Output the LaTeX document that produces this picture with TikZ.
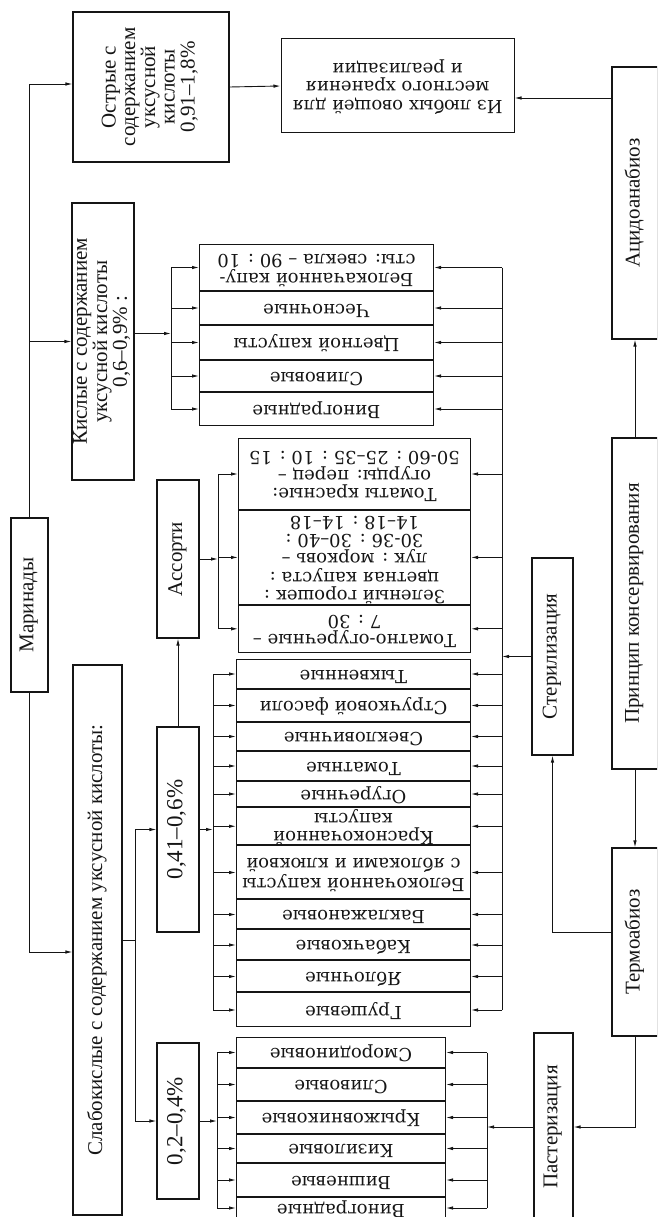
\documentclass[tikz,border=0pt]{standalone}
\usepackage{fontspec}
\setmainfont{Liberation Serif}
\newfontfamily\itemfont{DejaVu Serif}
\usepackage{graphicx}
\usetikzlibrary{arrows.meta,positioning,calc}
\definecolor{ink}{HTML}{151515}

\newcommand{\uptext}[1]{\rotatebox{90}{\begin{tabular}{@{}c@{}}#1\end{tabular}}}
\newcommand{\fliptext}[1]{\rotatebox{180}{\begin{tabular}{@{}c@{}}#1\end{tabular}}}

\tikzset{
  box/.style={draw=ink, line width=1.1pt, inner sep=0pt, text=ink,
    font=\fontsize{21}{19.5}\selectfont},
  rate/.style={box, font=\fontsize{23}{22}\selectfont},
  cell/.style={draw=ink, line width=1pt, inner sep=0pt, text=ink,
    font=\itemfont\fontsize{18}{18.5}\selectfont},
  feed/.style={draw=ink, line width=0.9pt, -{Latex[length=7pt,width=3.5pt]}},
  wire/.style={draw=ink, line width=0.9pt}
}

\begin{document}
\begin{tikzpicture}[x=1pt,y=-1pt]
    \useasboundingbox (0,0) rectangle (657,1217);
    \clip (0,0) rectangle (657,1217);

    \node[box, minimum width=37pt, minimum height=174pt] (mar) at (29.5,605) {\uptext{Маринады}};
    \node[box, minimum width=156pt, minimum height=150pt] (ostr) at (151,87)
      {\uptext{Острые с\\содержанием\\уксусной\\кислоты\\0,91–1,8\%}};
    \node[box, minimum width=62pt, minimum height=277pt] (kisl) at (103,341.5)
      {\uptext{Кислые с содержанием\\уксусной кислоты\\0,6–0,9\% :}};
    \node[box, minimum width=49pt, minimum height=550pt] (slab) at (97.5,940)
      {\uptext{Слабокислые с содержанием уксусной кислоты:}};
    \node[box, minimum width=42pt, minimum height=158pt] (asso) at (178,559) {\uptext{Ассорти}};
    \node[rate, minimum width=42pt, minimum height=205pt] (p041) at (178,829.5) {\uptext{0,41–0,6\%}};
    \node[rate, minimum width=42pt, minimum height=156pt] (p02) at (178,1121) {\uptext{0,2–0,4\%}};

    \node[cell, minimum width=233pt, minimum height=94pt] (izl) at (397.5,86)
      {\fliptext{Из любых овощей для\\местного хранения\\и реализации}};

    \node[box, minimum width=46pt, minimum height=272pt] (acid) at (635,203) {\uptext{Ацидоанабиоз}};
    \node[box, minimum width=46pt, minimum height=331pt] (princ) at (635,603.5) {\uptext{Принцип консервирования}};
    \node[box, minimum width=46pt, minimum height=188pt] (termo) at (635,942) {\uptext{Термоабиоз}};
    \node[box, minimum width=41pt, minimum height=197pt] (steril) at (552.5,656.5) {\uptext{Стерилизация}};
    \node[box, minimum width=39pt, minimum height=188pt] (paster) at (553.5,1127) {\uptext{Пастеризация}};

    % кислые
    \node[cell, minimum width=234pt, minimum height=46pt, anchor=north west] (kl1) at (199,244)
      {\fliptext{Белокачанной капу-\\сты: свекла – 90 : 10}};
    \node[cell, minimum width=234pt, minimum height=33pt, below=0pt of kl1] (kl2) {\fliptext{Чесночные}};
    \node[cell, minimum width=234pt, minimum height=34pt, below=0pt of kl2] (kl3) {\fliptext{Цветной капусты}};
    \node[cell, minimum width=234pt, minimum height=31pt, below=0pt of kl3] (kl4) {\fliptext{Сливовые}};
    \node[cell, minimum width=234pt, minimum height=33pt, below=0pt of kl4] (kl5) {\fliptext{Виноградные}};

    % ассорти
    \node[cell, minimum width=232pt, minimum height=71pt, anchor=north west] (al1) at (238,438)
      {\fliptext{Томаты красные:\\огурцы: перец –\\50-60 : 25–35 : 10 : 15}};
    \node[cell, minimum width=232pt, minimum height=93pt, below=0pt of al1] (al2)
      {\fliptext{Зеленый горошек :\\цветная капуста :\\лук : морковь –\\30-36 : 30–40 :\\14–18 : 14–18}};
    \node[cell, minimum width=232pt, minimum height=47pt, below=0pt of al2] (al3)
      {\fliptext{Томатно-огуречные –\\7 : 30}};

    % 0,41-0,6
    \node[cell, minimum width=234pt, minimum height=29pt, anchor=north west] (ml1) at (236,659) {\fliptext{Тыквенные}};
    \node[cell, minimum width=234pt, minimum height=32pt, below=0pt of ml1] (ml2) {\fliptext{Стручковой фасоли}};
    \node[cell, minimum width=234pt, minimum height=28pt, below=0pt of ml2] (ml3) {\fliptext{Свекловичные}};
    \node[cell, minimum width=234pt, minimum height=29pt, below=0pt of ml3] (ml4) {\fliptext{Томатные}};
    \node[cell, minimum width=234pt, minimum height=25pt, below=0pt of ml4] (ml5) {\fliptext{Огуречные}};
    \node[cell, minimum width=234pt, minimum height=37pt, below=0pt of ml5] (ml6) {\fliptext{Краснокочанной\\капусты}};
    \node[cell, minimum width=234pt, minimum height=53pt, below=0pt of ml6] (ml7)
      {\fliptext{Белокочанной капусты\\с яблоками и клюквой}};
    \node[cell, minimum width=234pt, minimum height=29pt, below=0pt of ml7] (ml8) {\fliptext{Баклажановые}};
    \node[cell, minimum width=234pt, minimum height=30pt, below=0pt of ml8] (ml9) {\fliptext{Кабачковые}};
    \node[cell, minimum width=234pt, minimum height=31pt, below=0pt of ml9] (ml10) {\fliptext{Яблочные}};
    \node[cell, minimum width=234pt, minimum height=34pt, below=0pt of ml10] (ml11) {\fliptext{Грушевые}};

    % 0,2-0,4
    \node[cell, minimum width=209pt, minimum height=30pt, anchor=north west] (sl1) at (236,1037) {\fliptext{Смородиновые}};
    \node[cell, minimum width=209pt, minimum height=32pt, below=0pt of sl1] (sl2) {\fliptext{Сливовые}};
    \node[cell, minimum width=209pt, minimum height=32pt, below=0pt of sl2] (sl3) {\fliptext{Крыжовниковые}};
    \node[cell, minimum width=209pt, minimum height=28pt, below=0pt of sl3] (sl4) {\fliptext{Кизиловые}};
    \node[cell, minimum width=209pt, minimum height=33pt, below=0pt of sl4] (sl5) {\fliptext{Вишневые}};
    \node[cell, minimum width=209pt, minimum height=21pt, below=0pt of sl5] (sl6) {\fliptext{Виноградные}};

    \coordinate (kbx) at (171,0);
    \coordinate (abx) at (218,0);
    \coordinate (mbx) at (213,0);
    \coordinate (sbx) at (217,0);
    \coordinate (bus) at (502,0);
    \coordinate (pbx) at (487,0);

    \draw[feed] (mar.north) |- ([yshift=3pt]ostr.west);
    \draw[feed] (mar.north) |- (kisl.west);
    \draw[feed] (mar.south) |- ([yshift=-12pt]slab.west);

    \draw[wire] (slab.east) -- ++(13,0) coordinate (sj);
    \draw[feed] (sj) |- (p041.west);
    \draw[feed] (sj) |- (p02.west);
    \draw[feed] (p041.north) -- (asso.south);

    \coordinate (kin) at ([yshift=8pt]kisl.east);
    \draw[feed] (kin) -- (kin -| kbx);
    \draw[wire] (kbx |- kl1.west) -- (kbx |- kl5.west);
    \foreach \i in {1,...,5} \draw[feed] (kbx |- kl\i.west) -- (kl\i.west);

    \draw[feed] (asso.east) -- (asso.east -| abx);
    \draw[wire] (abx |- al1.west) -- (abx |- al3.west);
    \foreach \i in {1,...,3} \draw[feed] (abx |- al\i.west) -- (al\i.west);

    \draw[feed] (p041.east) -- (p041.east -| mbx);
    \draw[wire] (mbx |- ml1.west) -- (mbx |- ml11.west);
    \foreach \i in {1,...,11} \draw[feed] (mbx |- ml\i.west) -- (ml\i.west);

    \draw[feed] (p02.east) -- (p02.east -| sbx);
    \draw[wire] (sbx |- sl1.west) -- (sbx |- sl6.west);
    \foreach \i in {1,...,6} \draw[feed] (sbx |- sl\i.west) -- (sl\i.west);

    \draw[wire] (bus |- kl1.east) -- (bus |- ml11.east);
    \foreach \i in {1,...,5} \draw[feed] (bus |- kl\i.east) -- (kl\i.east);
    \foreach \i in {1,...,3} \draw[feed] (bus |- al\i.east) -- (al\i.east);
    \foreach \i in {1,...,11} \draw[feed] (bus |- ml\i.east) -- (ml\i.east);
    \draw[feed] (steril.west) -- (steril.west -| bus);

    \draw[wire] (pbx |- sl1.east) -- (pbx |- sl6.east);
    \foreach \i in {1,...,6} \draw[feed] (pbx |- sl\i.east) -- (sl\i.east);
    \draw[feed] (paster.west) -- (paster.west -| pbx);

    \draw[feed] (ostr.east) -- (izl.west);
    \coordinate (ain) at ([yshift=-12pt]izl.east);
    \draw[feed] (ain -| acid.west) -- (ain);
    \draw[feed] (princ.north) -- (acid.south);
    \draw[feed] (princ.south) -- (termo.north);
    \draw[feed] ([yshift=10pt]termo.west) -| (steril.south);
    \draw[feed] (termo.south) |- (paster.east);
\end{tikzpicture}
\end{document}
